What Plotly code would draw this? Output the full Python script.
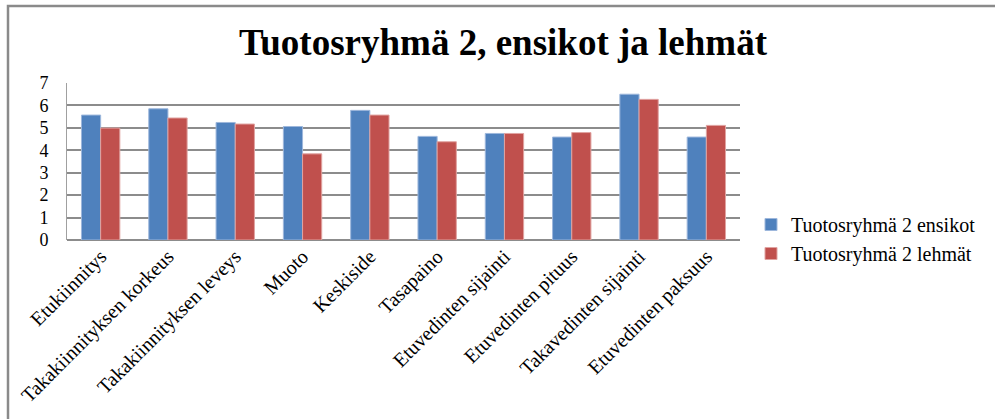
"""Tuotosryhmä 2 -pylväskaavio"""

import plotly.graph_objects as go

ominaisuudet = [
    "Etukiinnitys",
    "Takakiinnityksen korkeus",
    "Takakiinnityksen leveys",
    "Muoto",
    "Keskiside",
    "Tasapaino",
    "Etuvedinten sijainti",
    "Etuvedinten pituus",
    "Takavedinten sijainti",
    "Etuvedinten paksuus",
]
ensikot = [5.57, 5.85, 5.24, 5.06, 5.78, 4.62, 4.75, 4.59, 6.50, 4.59]
lehmat = [4.99, 5.44, 5.17, 3.84, 5.57, 4.38, 4.75, 4.79, 6.27, 5.11]
y_ticks = [0, 1, 2, 3, 4, 5, 6, 7]

FONT = "Liberation Serif, Times New Roman, serif"

# plot area in pixels (995x419 canvas)
L, R, T, B = 67, 255, 83, 179
W = 995 - L - R
H = 419 - T - B


def px_x(px):
    return (px - L) / W


def px_y(py):
    return (419 - B - py) / H


fig = go.Figure()
fig.add_trace(go.Bar(
    x=ominaisuudet,
    y=ensikot,
    name="Tuotosryhmä 2 ensikot",
    marker=dict(color="#4F81BD", line=dict(color="#9DB7DC", width=1)),
))
fig.add_trace(go.Bar(
    x=ominaisuudet,
    y=lehmat,
    name="Tuotosryhmä 2 lehmät",
    marker=dict(color="#C0504D", line=dict(color="#E0A3A1", width=1)),
))

# outer chart frame (top and left edges only)
fig.add_shape(
    type="path",
    xref="paper", yref="paper",
    path=f"M {px_x(8)} {px_y(425)} L {px_x(8)} {px_y(6)} L {px_x(1000)} {px_y(6)}",
    line=dict(color="#8a8a8a", width=2.5),
)

fig.update_layout(
    width=995,
    height=419,
    margin=dict(l=L, r=R, t=T, b=B, autoexpand=False),
    paper_bgcolor="white",
    plot_bgcolor="white",
    font=dict(family=FONT, color="black"),
    title=dict(
        text="<b>Tuotosryhmä 2, ensikot ja lehmät</b>",
        x=503 / 995, xref="container", xanchor="center",
        y=1 - 42 / 419, yref="container", yanchor="middle",
        font=dict(family=FONT, size=37, color="black"),
    ),
    barmode="group",
    bargap=0.43,
    bargroupgap=0,
    showlegend=True,
    legend=dict(
        x=px_x(751), xanchor="left",
        y=px_y(239), yanchor="middle",
        font=dict(family=FONT, size=20, color="black"),
        itemwidth=30,
    ),
    xaxis=dict(
        tickangle=-45,
        tickfont=dict(family=FONT, size=20, color="black"),
        showgrid=False,
        showline=False,
        ticks="",
    ),
    yaxis=dict(
        range=[0, 7],
        tickvals=y_ticks,
        tickfont=dict(family=FONT, size=18, color="black"),
        showgrid=True,
        gridcolor="#8c8c8c",
        gridwidth=1.5,
        showline=True,
        linecolor="#a0a0a0",
        linewidth=1,
        zeroline=True,
        zerolinecolor="#8c8c8c",
        zerolinewidth=1.5,
        ticks="",
        ticklabelstandoff=14,
    ),
)

fig.write_html(
    "out.html",
    config={"displayModeBar": False},
    post_script="document.body.style.margin = '0';",
)
